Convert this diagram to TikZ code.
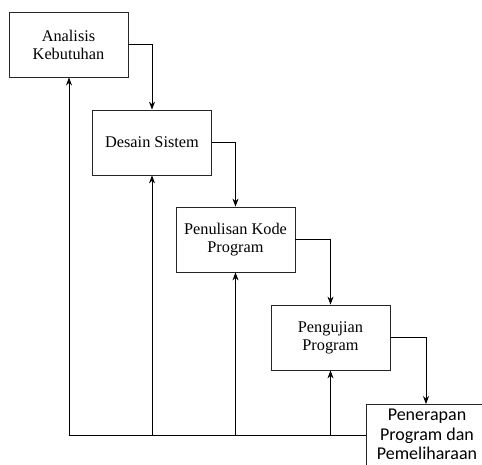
\documentclass[tikz,border=0pt]{standalone}
\usepackage{fontspec}
\setmainfont{Liberation Serif}
\newfontfamily\boxsans{Carlito}
\usetikzlibrary{arrows.meta}
\begin{document}
\begin{tikzpicture}[x=1pt,y=-1pt,
  phase/.style={draw=black!85,line width=0.8pt,minimum width=119pt,minimum height=65pt,
    align=center,font=\fontsize{16.3}{18}\selectfont,inner sep=0pt},
  flow/.style={line width=0.8pt,-{Stealth[length=8pt,width=6pt]}},
  link/.style={line width=0.8pt}]
\useasboundingbox (0,0) rectangle (482,464);
\clip (0,0) rectangle (482,464);
\node[phase] (a) at (68.5,44.5) {Analisis\\Kebutuhan};
\node[phase] (b) at (152,142.5) {Desain Sistem};
\node[phase] (c) at (235.5,239.5) {Penulisan Kode\\Program};
\node[phase] (d) at (330.5,337.5) {Pengujian\\Program};
\node[phase,minimum width=125pt,minimum height=70pt,anchor=north west] (e) at (366,404) {};
\node[font=\boxsans\fontsize{18}{19.5}\selectfont,align=center,anchor=north,inner sep=0pt] (et) at (427,409) {Penerapan\\Program dan\\Pemeliharaan};
% forward flow
\draw[flow] (a.east) -| (b.north);
\draw[flow] (b.east) -| (c.north);
\draw[flow] (c.east) -| (d.north);
\draw[flow] (d.east) -| (426,404);
% feedback lines
\coordinate (base) at (366,435);
\draw[link] (base) -- (69,435);
\draw[flow] (69,435) -- (69,77.5);
\draw[flow] (152,435) -- (b.south);
\draw[flow] (235.5,435) -- (c.south);
\draw[flow] (330.5,435) -- (d.south);
\end{tikzpicture}
\end{document}
